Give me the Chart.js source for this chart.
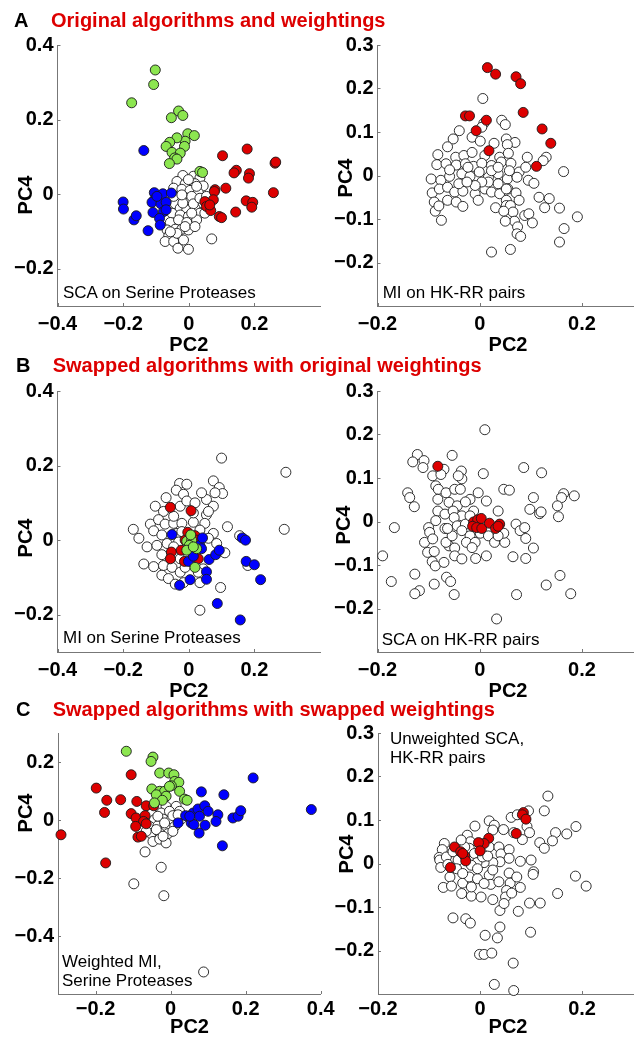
<!DOCTYPE html>
<html><head><meta charset="utf-8">
<script src="https://cdn.jsdelivr.net/npm/chart.js@4.4.1/dist/chart.umd.min.js"></script>
<style>
html,body{margin:0;padding:0;background:#fff;overflow:hidden;width:641px;height:1041px}
#fig{position:relative;width:641px;height:1041px;overflow:hidden}
canvas{position:absolute}
.t{position:absolute;font-family:"Liberation Sans",Arial,sans-serif;white-space:nowrap;color:#000}
.b{font-weight:bold;font-size:20px;line-height:20px}
.n{font-size:17px;line-height:17px}
.red{color:#dd0000}
</style></head><body><div id="fig"></div>
<script>
// ---------- tick values and labels ----------
const xTicksLeftAB = [-0.4, -0.2, 0, 0.2];
const xLabelsLeftAB = ['\u22120.4', '\u22120.2', '0', '0.2'];
const xTicksLeftC = [-0.2, 0, 0.2, 0.4];
const xLabelsLeftC = ['\u22120.2', '0', '0.2', '0.4'];
const xTicksRight = [-0.2, 0, 0.2];
const xLabelsRight = ['\u22120.2', '0', '0.2'];
const yTicksLeftAB = [-0.2, 0, 0.2, 0.4];
const yLabelsLeftAB = ['\u22120.2', '0', '0.2', '0.4'];
const yTicksLeftC = [-0.4, -0.2, 0, 0.2];
const yLabelsLeftC = ['\u22120.4', '\u22120.2', '0', '0.2'];
const yTicksRight = [-0.2, -0.1, 0, 0.1, 0.2, 0.3];
const yLabelsRight = ['\u22120.2', '\u22120.1', '0', '0.1', '0.2', '0.3'];

// ---------- Panel A left: SCA on Serine Proteases ----------
const aLGreen = [[-0.102,0.333],[-0.107,0.294],[-0.174,0.245],[-0.031,0.223],[-0.053,0.205],[-0.018,0.211],[-0.003,0.162],[0.017,0.157],[-0.011,0.142],[-0.036,0.151],[-0.058,0.139],[-0.069,0.128],[-0.013,0.128],[-0.051,0.112],[-0.026,0.110],[-0.043,0.097],[-0.036,0.094],[-0.059,0.082],[0.034,0.061],[0.042,0.058]];
const aLBlue = [[-0.137,0.117],[-0.200,-0.021],[-0.199,-0.040],[-0.167,-0.069],[-0.160,-0.058],[-0.124,-0.098],[-0.105,0.004],[-0.079,0.001],[-0.053,0.003],[-0.104,-0.015],[-0.112,-0.022],[-0.085,-0.026],[-0.069,-0.022],[-0.109,-0.049],[-0.077,-0.047],[-0.069,-0.042],[-0.089,-0.065],[-0.087,-0.083],[-0.097,-0.006]];
const aLRed = [[0.103,0.103],[0.178,0.121],[0.263,0.083],[0.265,0.086],[0.258,0.004],[0.145,0.064],[0.138,0.057],[0.185,0.055],[0.182,0.043],[0.113,0.016],[0.080,0.012],[0.078,0.007],[0.075,-0.015],[0.049,-0.020],[0.054,-0.033],[0.067,-0.044],[0.064,-0.029],[0.093,-0.060],[0.100,-0.063],[0.143,-0.048],[0.175,-0.018],[0.195,-0.022],[0.192,-0.035]];
const aLWhite = [[-0.018,0.050],[0.014,0.048],[0.034,0.043],[-0.036,0.034],[-0.011,0.027],[0.019,0.028],[0.044,0.022],[-0.046,0.016],[-0.021,0.013],[0.004,0.010],[0.029,0.004],[-0.034,-0.006],[-0.011,-0.009],[0.002,-0.022],[0.024,-0.015],[0.039,-0.024],[-0.041,-0.026],[-0.026,-0.038],[-0.006,-0.042],[0.019,-0.038],[0.034,-0.051],[0.049,-0.051],[-0.051,-0.051],[-0.026,-0.056],[-0.001,-0.060],[-0.056,-0.076],[-0.031,-0.069],[-0.006,-0.076],[0.024,-0.069],[-0.066,-0.096],[-0.041,-0.094],[-0.021,-0.094],[-0.001,-0.096],[-0.061,-0.112],[-0.036,-0.114],[-0.072,-0.127],[-0.046,-0.127],[-0.033,-0.145],[-0.001,-0.148],[0.070,-0.120],[0.009,-0.006],[-0.018,-0.024],[0.014,-0.026],[-0.046,-0.006],[-0.021,-0.002],[0.024,0.021],[-0.001,0.039],[-0.011,-0.087],[0.019,-0.087],[0.009,-0.051],[-0.036,-0.105],[-0.016,-0.123],[-0.056,-0.101],[0.034,-0.011],[0.054,-0.006]];

// ---------- Panel A right: MI on HK-RR pairs ----------
const aRRed = [[0.015,0.248],[0.031,0.233],[0.071,0.227],[0.080,0.211],[-0.028,0.137],[-0.020,0.137],[0.013,0.127],[0.085,0.145],[-0.007,0.103],[0.122,0.107],[0.139,0.074],[0.018,0.057],[0.111,0.021]];
const aRWhite = [[0.006,0.177],[0.043,0.127],[0.050,0.117],[-0.040,0.103],[0.008,0.120],[0.004,0.111],[-0.052,0.084],[-0.063,0.066],[-0.015,0.088],[0.001,0.079],[0.028,0.074],[0.052,0.084],[0.069,0.076],[0.054,0.071],[-0.082,0.048],[-0.047,0.042],[-0.031,0.046],[-0.015,0.053],[0.010,0.046],[0.039,0.042],[0.056,0.051],[0.093,0.042],[0.130,0.042],[0.124,0.034],[-0.084,0.025],[-0.066,0.027],[-0.046,0.024],[-0.028,0.027],[-0.012,0.021],[0.004,0.028],[0.023,0.023],[0.042,0.031],[0.061,0.028],[0.077,0.008],[0.090,0.019],[0.164,0.009],[-0.095,-0.008],[-0.076,-0.011],[-0.059,-0.002],[-0.035,0.004],[-0.019,-0.002],[-0.001,0.008],[0.017,-0.004],[0.036,0.004],[0.054,-0.008],[0.073,-0.004],[0.095,-0.011],[0.106,-0.018],[-0.093,-0.040],[-0.079,-0.031],[-0.063,-0.027],[-0.049,-0.038],[-0.033,-0.036],[-0.009,-0.042],[0.010,-0.031],[0.023,-0.038],[0.039,-0.042],[0.055,-0.031],[0.071,-0.040],[-0.089,-0.061],[-0.063,-0.057],[-0.046,-0.061],[0.031,-0.074],[0.052,-0.057],[0.077,-0.057],[0.116,-0.050],[0.136,-0.053],[0.127,-0.074],[0.156,-0.075],[-0.033,-0.071],[-0.087,-0.082],[-0.080,-0.070],[-0.075,-0.103],[0.052,-0.069],[0.060,-0.069],[0.065,-0.084],[0.047,-0.082],[0.088,-0.092],[0.096,-0.088],[0.103,-0.109],[0.068,-0.105],[0.050,-0.105],[0.074,-0.118],[0.073,-0.134],[0.080,-0.140],[0.191,-0.095],[0.165,-0.122],[0.156,-0.153],[0.060,-0.170],[0.023,-0.176],[0.017,-0.015],[0.004,-0.015],[-0.009,-0.023],[0.036,-0.019],[-0.041,-0.019],[-0.025,-0.015],[-0.003,-0.057],[-0.023,0.019],[0.023,0.011],[0.036,0.019],[0.058,0.011],[-0.059,0.013],[0.052,-0.031]];

// ---------- Panel B left: MI on Serine Proteases ----------
const bLGreen = [[-0.006,-0.003],[0.009,0.000],[0.002,-0.014],[0.024,-0.023],[-0.006,-0.027],[0.019,-0.073],[0.014,-0.018],[0.006,0.014]];
const bLBlue = [[-0.051,0.015],[-0.028,-0.121],[0.004,-0.106],[-0.001,-0.057],[0.014,-0.043],[0.034,-0.014],[0.039,-0.023],[0.042,0.006],[0.062,-0.052],[0.082,-0.039],[0.093,-0.027],[0.054,-0.085],[0.054,-0.105],[0.087,-0.170],[0.157,-0.214],[0.163,0.006],[0.173,0.000],[0.175,-0.057],[0.200,-0.066],[0.219,-0.106]];
const bLRed = [[-0.056,0.088],[0.007,0.079],[-0.003,0.021],[0.019,0.012],[0.024,0.000],[-0.053,-0.032],[-0.056,-0.050],[-0.023,-0.027],[-0.013,-0.057],[0.029,-0.050],[-0.011,0.000]];
const bLWhite = [[0.100,0.220],[0.296,0.182],[0.291,0.029],[-0.028,0.152],[-0.038,0.134],[-0.016,0.123],[0.075,0.159],[0.093,0.141],[0.103,0.125],[0.080,0.127],[0.054,0.109],[0.075,0.091],[-0.069,0.114],[-0.102,0.091],[-0.077,0.077],[-0.026,0.091],[-0.006,0.105],[0.019,0.100],[0.054,0.068],[-0.117,0.043],[-0.092,0.055],[-0.072,0.043],[-0.046,0.045],[-0.021,0.045],[0.014,0.048],[0.049,0.045],[0.118,0.036],[-0.169,0.029],[-0.152,0.005],[-0.127,-0.018],[-0.107,0.025],[-0.082,0.014],[-0.097,-0.014],[-0.066,-0.009],[-0.036,0.018],[-0.031,-0.005],[0.075,0.018],[0.060,0.005],[0.085,-0.009],[0.110,-0.034],[0.155,0.012],[-0.137,-0.064],[-0.107,-0.071],[-0.082,-0.039],[-0.077,-0.068],[-0.051,-0.073],[-0.026,-0.086],[-0.082,-0.094],[-0.062,-0.103],[-0.041,-0.118],[-0.016,-0.114],[0.034,-0.114],[0.044,-0.077],[0.097,-0.127],[0.034,-0.188],[0.180,-0.068],[-0.011,-0.073],[0.029,-0.086],[-0.026,-0.050],[-0.046,-0.018],[-0.021,0.023],[0.034,0.027],[0.060,0.077],[0.039,0.127],[-0.006,0.150],[-0.046,0.064],[0.014,0.073]];

// ---------- Panel B right: SCA on HK-RR pairs ----------
const bRRed = [[-0.082,0.127],[-0.012,-0.001],[-0.004,0.004],[0.003,0.007],[-0.014,-0.011],[-0.006,-0.014],[0.004,-0.016],[0.019,-0.004],[0.031,-0.016],[0.039,-0.006],[0.036,-0.011]];
const bRWhite = [[0.010,0.211],[-0.122,0.154],[-0.131,0.137],[-0.109,0.140],[-0.111,0.124],[-0.054,0.152],[-0.070,0.120],[-0.092,0.105],[-0.076,0.108],[-0.036,0.116],[-0.035,0.098],[-0.042,0.105],[0.007,0.110],[0.086,0.124],[0.121,0.112],[-0.141,0.066],[-0.137,0.055],[-0.128,0.034],[-0.167,-0.014],[-0.190,-0.079],[-0.173,-0.138],[-0.086,0.082],[-0.081,0.074],[-0.066,0.066],[-0.049,0.074],[-0.038,0.074],[-0.019,0.051],[-0.003,0.066],[0.013,0.047],[0.047,0.074],[0.058,0.072],[0.105,0.055],[0.098,0.028],[0.117,0.018],[0.120,0.022],[0.164,0.064],[0.160,0.055],[0.152,0.036],[0.154,0.011],[0.185,0.059],[-0.082,0.051],[-0.060,0.044],[-0.044,0.036],[-0.028,0.045],[-0.012,0.024],[0.036,0.024],[-0.082,0.024],[-0.068,0.017],[-0.052,0.024],[-0.035,0.013],[-0.100,-0.014],[-0.098,-0.025],[-0.108,-0.048],[-0.086,0.002],[-0.068,-0.016],[-0.050,0.009],[-0.044,-0.010],[-0.028,-0.006],[-0.035,-0.021],[-0.019,-0.033],[0.001,-0.027],[0.017,-0.033],[0.029,-0.048],[0.049,-0.048],[0.047,-0.027],[0.071,-0.006],[0.079,-0.021],[0.088,-0.014],[0.090,-0.039],[0.105,-0.061],[0.065,-0.081],[0.090,-0.085],[-0.102,-0.071],[-0.093,-0.092],[-0.087,-0.102],[-0.070,-0.094],[-0.089,-0.069],[-0.060,-0.056],[-0.049,-0.061],[-0.049,-0.079],[-0.035,-0.086],[-0.026,-0.048],[-0.008,-0.085],[0.013,-0.079],[-0.127,-0.121],[-0.118,-0.159],[-0.127,-0.166],[-0.089,-0.144],[-0.065,-0.128],[-0.057,-0.138],[-0.050,-0.168],[0.072,-0.168],[0.033,-0.224],[0.157,-0.124],[0.130,-0.146],[0.178,-0.166],[-0.019,0.013],[-0.066,-0.048],[-0.009,-0.048],[0.036,-0.033],[-0.054,-0.033],[-0.092,-0.040],[-0.015,-0.060],[-0.063,-0.016]];

// ---------- Panel C left: Weighted MI, Serine Proteases ----------
const cLGreen = [[-0.118,0.237],[-0.047,0.217],[-0.052,0.202],[-0.029,0.162],[-0.005,0.162],[0.009,0.156],[0.011,0.133],[0.022,0.130],[0.002,0.118],[0.024,0.099],[-0.050,0.107],[-0.029,0.099],[-0.016,0.099],[-0.038,0.087],[-0.012,0.082],[0.037,0.072],[0.044,0.068],[-0.022,0.068],[-0.043,0.059],[-0.003,0.116]];
const cLBlue = [[0.082,0.097],[0.142,0.087],[0.220,0.145],[0.375,0.036],[0.020,-0.010],[0.040,0.015],[0.055,-0.010],[0.060,0.024],[0.073,0.038],[0.077,0.013],[0.091,0.049],[0.100,0.030],[0.092,-0.018],[0.076,-0.045],[0.062,-0.016],[0.126,0.018],[0.121,-0.005],[0.166,0.007],[0.180,0.013],[0.187,0.032],[0.138,-0.089],[0.051,0.013]];
const cLRed = [[-0.292,-0.051],[-0.198,0.110],[-0.105,0.156],[-0.170,0.068],[-0.133,0.070],[-0.176,0.026],[-0.173,-0.148],[-0.090,0.064],[-0.065,0.049],[-0.045,0.049],[-0.105,0.022],[-0.092,0.007],[-0.068,0.015],[-0.072,-0.005],[-0.093,-0.022],[-0.065,-0.013],[-0.087,-0.059],[-0.078,-0.056]];
const cLWhite = [[-0.034,0.041],[-0.012,0.047],[0.015,0.047],[-0.052,0.024],[-0.025,0.024],[-0.003,0.030],[0.024,0.030],[-0.043,0.001],[-0.020,0.003],[0.002,0.001],[0.028,0.003],[-0.056,-0.022],[-0.034,-0.020],[-0.012,-0.022],[0.011,-0.022],[-0.052,-0.047],[-0.029,-0.045],[-0.007,-0.047],[-0.047,-0.074],[-0.029,-0.066],[-0.012,-0.079],[-0.068,-0.110],[-0.025,-0.163],[-0.098,-0.220],[-0.018,-0.261],[0.088,-0.524],[0.006,0.015],[-0.034,0.013],[-0.016,-0.010],[-0.038,-0.033],[-0.065,-0.039],[0.006,-0.039],[-0.020,-0.056],[0.020,0.018]];

// ---------- Panel C right: Unweighted SCA, HK-RR pairs ----------
const cRRed = [[0.085,0.117],[0.083,0.112],[0.090,0.102],[0.071,0.069],[0.017,0.058],[0.008,0.046],[-0.003,0.048],[0.000,0.029],[-0.050,0.038],[-0.038,0.027],[-0.030,0.017],[-0.028,0.006],[-0.058,-0.009],[-0.034,0.023]];
const cRWhite = [[0.133,0.155],[0.126,0.121],[0.095,0.121],[0.061,0.106],[0.073,0.112],[0.018,0.098],[0.028,0.088],[-0.010,0.086],[0.046,0.078],[0.066,0.071],[0.092,0.085],[0.097,0.071],[0.188,0.085],[0.170,0.068],[0.148,0.071],[0.142,0.052],[0.117,0.048],[0.126,0.035],[0.083,0.055],[-0.025,0.065],[-0.070,0.046],[-0.074,0.032],[-0.080,0.014],[-0.079,0.008],[-0.077,-0.009],[-0.066,0.015],[-0.063,-0.002],[-0.053,0.027],[-0.043,0.008],[-0.019,0.050],[-0.021,0.035],[-0.011,0.023],[0.018,0.038],[0.025,0.077],[0.037,0.038],[0.041,0.022],[0.057,0.032],[0.057,0.012],[0.039,0.004],[0.025,0.002],[0.008,0.002],[-0.006,0.002],[-0.017,-0.004],[-0.046,-0.012],[-0.059,-0.031],[-0.072,-0.055],[-0.056,-0.052],[-0.034,-0.045],[-0.036,-0.069],[-0.017,-0.075],[0.002,-0.077],[-0.021,-0.031],[-0.005,-0.035],[0.018,-0.027],[0.021,-0.048],[0.025,-0.083],[0.037,-0.042],[0.057,-0.022],[0.059,-0.045],[0.052,-0.062],[0.050,-0.077],[0.062,-0.068],[0.072,-0.031],[0.079,0.005],[0.100,0.008],[0.105,-0.019],[0.104,-0.025],[0.079,-0.055],[0.039,-0.108],[0.047,-0.092],[0.075,-0.110],[0.097,-0.091],[0.118,-0.091],[0.152,-0.069],[0.187,-0.029],[0.208,-0.052],[0.099,-0.158],[-0.053,-0.125],[-0.028,-0.127],[-0.019,-0.137],[0.010,-0.165],[0.039,-0.146],[0.034,-0.171],[-0.001,-0.209],[0.008,-0.209],[0.023,-0.206],[0.065,-0.229],[0.028,-0.278],[0.066,-0.292],[0.005,0.015],[0.015,0.017],[-0.030,0.038],[-0.037,0.054],[-0.005,-0.012],[0.025,-0.015],[-0.034,-0.023],[0.008,-0.046],[-0.017,-0.054]];

// ---------- rendering ----------
const FONT = '"Liberation Sans", Arial, sans-serif';
const COLORS = {green:'#8ce650', blue:'#0000ff', red:'#dd0000', white:'#ffffff'};
const fig = document.getElementById('fig');

function ds(points, color) {
  return {
    data: points.map(p => ({x: p[0], y: p[1]})),
    backgroundColor: color, borderColor: '#1a1a1a', borderWidth: 0.9,
    pointRadius: 5.0, pointHoverRadius: 5.0, clip: false
  };
}

const innerTicks = {
  id: 'innerTicks',
  beforeDatasetsDraw(chart) {
    const ctx = chart.ctx, a = chart.chartArea, xs = chart.scales.x, ys = chart.scales.y;
    ctx.save(); ctx.strokeStyle = '#777'; ctx.lineWidth = 1; ctx.beginPath();
    xs.ticks.forEach(t => { const p = Math.round(xs.getPixelForValue(t.value)) + 0.5; ctx.moveTo(p, a.bottom); ctx.lineTo(p, a.bottom - 3); });
    ys.ticks.forEach(t => { const p = Math.round(ys.getPixelForValue(t.value)) + 0.5; ctx.moveTo(a.left, p); ctx.lineTo(a.left + 3, p); });
    ctx.stroke(); ctx.restore();
  }
};

function panel(cfg) {
  const padTop = 20, xAxisH = 50;
  const cw = Math.ceil(cfg.plotR - cfg.canvasL + cfg.padR);
  const padR = cw - (cfg.plotR - cfg.canvasL);
  const ch = padTop + (cfg.plotB - cfg.plotT) + xAxisH;
  const c = document.createElement('canvas');
  c.width = cw; c.height = ch;
  c.style.left = cfg.canvasL + 'px'; c.style.top = (cfg.plotT - padTop) + 'px';
  c.style.width = cw + 'px'; c.style.height = ch + 'px';
  fig.appendChild(c);
  const tickFont = {family: FONT, size: 20, weight: 'bold'};
  new Chart(c, {
    type: 'scatter',
    data: {datasets: cfg.sets},
    options: {
      responsive: false, animation: false, devicePixelRatio: 1,
      layout: {padding: {left: 0, top: padTop, right: padR, bottom: 0}},
      plugins: {legend: {display: false}, tooltip: {enabled: false}},
      events: [],
      scales: {
        x: {
          type: 'linear', min: cfg.xr[0], max: cfg.xr[1],
          afterBuildTicks: s => { s.ticks = cfg.xt.map(v => ({value: v})); },
          afterFit: s => { s.height = xAxisH; },
          ticks: {font: tickFont, color: '#000', padding: cfg.xpad, maxRotation: 0, autoSkip: false,
                  callback: (v, i) => cfg.xl[i]},
          grid: {display: false, drawTicks: false},
          border: {display: true, color: '#777', width: 1}
        },
        y: {
          type: 'linear', min: cfg.yr[0], max: cfg.yr[1],
          afterBuildTicks: s => { s.ticks = cfg.yt.map(v => ({value: v})); },
          afterFit: s => { s.width = cfg.plotL - cfg.canvasL; },
          ticks: {font: tickFont, color: '#000', padding: 4, autoSkip: false,
                  callback: (v, i) => cfg.yl[i]},
          grid: {display: false, drawTicks: false},
          border: {display: true, color: '#777', width: 1}
        }
      }
    },
    plugins: [innerTicks]
  });
}

const C = COLORS;
panel({canvasL: 0, plotL: 57.5, plotR: 320, plotT: 45, plotB: 306, padR: 15, xpad: 6,
  xr: [-0.4, 0.4], yr: [-0.3, 0.4], xt: xTicksLeftAB, xl: xLabelsLeftAB, yt: yTicksLeftAB, yl: yLabelsLeftAB,
  sets: [ds(aLGreen, C.green), ds(aLBlue, C.blue), ds(aLRed, C.red), ds(aLWhite, C.white)]});
panel({canvasL: 320, plotL: 377.5, plotR: 638.5, plotT: 45, plotB: 306, padR: 0.5, xpad: 6,
  xr: [-0.2, 0.3], yr: [-0.3, 0.3], xt: xTicksRight, xl: xLabelsRight, yt: yTicksRight, yl: yLabelsRight,
  sets: [ds(aRRed, C.red), ds(aRWhite, C.white)]});
panel({canvasL: 0, plotL: 57.5, plotR: 320, plotT: 391, plotB: 652, padR: 15, xpad: 6,
  xr: [-0.4, 0.4], yr: [-0.3, 0.4], xt: xTicksLeftAB, xl: xLabelsLeftAB, yt: yTicksLeftAB, yl: yLabelsLeftAB,
  sets: [ds(bLGreen, C.green), ds(bLBlue, C.blue), ds(bLRed, C.red), ds(bLWhite, C.white)]});
panel({canvasL: 320, plotL: 377.5, plotR: 638.5, plotT: 391, plotB: 652, padR: 0.5, xpad: 6,
  xr: [-0.2, 0.3], yr: [-0.3, 0.3], xt: xTicksRight, xl: xLabelsRight, yt: yTicksRight, yl: yLabelsRight,
  sets: [ds(bRRed, C.red), ds(bRWhite, C.white)]});
panel({canvasL: 0, plotL: 58, plotR: 320.7, plotT: 732.5, plotB: 993.5, padR: 20, xpad: 3.5,
  xr: [-0.3, 0.4], yr: [-0.6, 0.3], xt: xTicksLeftC, xl: xLabelsLeftC, yt: yTicksLeftC, yl: yLabelsLeftC,
  sets: [ds(cLGreen, C.green), ds(cLBlue, C.blue), ds(cLRed, C.red), ds(cLWhite, C.white)]});
panel({canvasL: 320, plotL: 378, plotR: 638.5, plotT: 732.5, plotB: 993.5, padR: 0.5, xpad: 3.5,
  xr: [-0.2, 0.3], yr: [-0.3, 0.3], xt: xTicksRight, xl: xLabelsRight, yt: yTicksRight, yl: yLabelsRight,
  sets: [ds(cRRed, C.red), ds(cRWhite, C.white)]});

// ---------- text ----------
function txt(s, x, baseline, cls, center) {
  const d = document.createElement('div');
  d.className = 't ' + cls;
  d.textContent = s;
  const size = cls.indexOf('n') === 0 ? 17 : 20;
  d.style.left = x + 'px';
  d.style.top = (baseline - 0.8465 * size) + 'px';
  if (center) d.style.transform = 'translateX(-50%)';
  fig.appendChild(d);
}
function vtxt(s, cx, cy) {
  const d = document.createElement('div');
  d.className = 't b';
  d.textContent = s;
  d.style.left = cx + 'px'; d.style.top = cy + 'px';
  d.style.transform = 'translate(-50%,-50%) rotate(-90deg)';
  fig.appendChild(d);
}
// panel headings
txt('A', 14, 27.3, 'b');
txt('Original algorithms and weightings', 51, 27.3, 'b red');
txt('B', 16, 371.7, 'b');
txt('Swapped algorithms with original weightings', 52.7, 371.7, 'b red');
txt('C', 16, 716, 'b');
txt('Swapped algorithms with swapped weightings', 52.7, 716, 'b red');
// axis titles
txt('PC2', 188.8, 350.7, 'b', true);
txt('PC2', 508, 350.7, 'b', true);
txt('PC2', 188.8, 697.3, 'b', true);
txt('PC2', 508, 697.3, 'b', true);
txt('PC2', 189.5, 1033, 'b', true);
txt('PC2', 508, 1033, 'b', true);
vtxt('PC4', 25, 194.7);
vtxt('PC4', 344.7, 178.3);
vtxt('PC4', 24.7, 538.3);
vtxt('PC4', 343.3, 525);
vtxt('PC4', 24.5, 812.5);
vtxt('PC4', 346.3, 854);
// annotations
txt('SCA on Serine Proteases', 63, 298.3, 'n');
txt('MI on HK-RR pairs', 382.7, 298.3, 'n');
txt('MI on Serine Proteases', 63, 643.3, 'n');
txt('SCA on HK-RR pairs', 381.7, 645, 'n');
txt('Weighted MI,', 62, 967.3, 'n');
txt('Serine Proteases', 62, 986.7, 'n');
txt('Unweighted SCA,', 390, 744, 'n');
txt('HK-RR pairs', 390, 763.3, 'n');
</script>
</body></html>
